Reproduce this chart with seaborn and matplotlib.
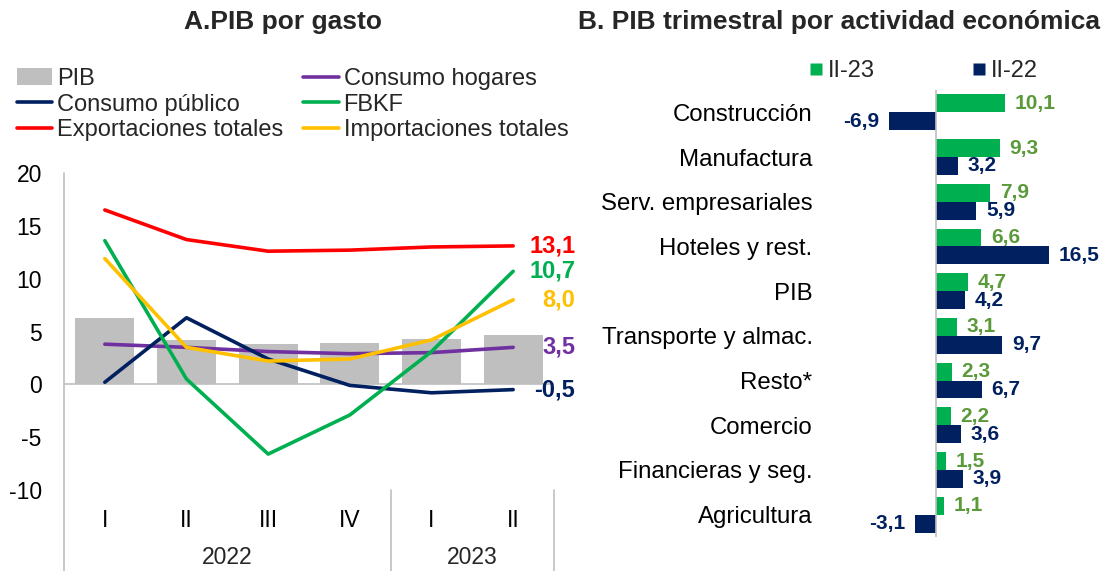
import matplotlib
matplotlib.use("Agg")
import matplotlib.pyplot as plt
import seaborn as sns
import pandas as pd
from matplotlib.patches import Patch
from matplotlib.lines import Line2D

sns.set_theme(style="white")
plt.rcParams['font.family'] = ['Liberation Sans', 'DejaVu Sans']
plt.rcParams['axes.unicode_minus'] = False

# ---------------- data ----------------
quarters = ["I", "II", "III", "IV", "I", "II"]
years = ["2022", "2023"]
pib_gasto = [6.3, 4.2, 3.8, 3.9, 4.3, 4.7]
consumo_hogares = [3.8, 3.5, 3.1, 2.9, 3.0, 3.5]
consumo_publico = [0.2, 6.3, 2.4, -0.1, -0.8, -0.5]
fbkf = [13.6, 0.5, -6.6, -2.9, 3.1, 10.7]
exportaciones = [16.5, 13.7, 12.6, 12.7, 13.0, 13.1]
importaciones = [11.9, 3.5, 2.2, 2.4, 4.2, 8.0]

sectores = ["Construcción", "Manufactura", "Serv. empresariales", "Hoteles y rest.",
            "PIB", "Transporte y almac.", "Resto*", "Comercio",
            "Financieras y seg.", "Agricultura"]
ii_23 = [10.1, 9.3, 7.9, 6.6, 4.7, 3.1, 2.3, 2.2, 1.5, 1.1]
ii_22 = [-6.9, 3.2, 5.9, 16.5, 4.2, 9.7, 6.7, 3.6, 3.9, -3.1]

# ---------------- styles ----------------
GRAY = "#BFBFBF"
RED = "#FF0000"
GREEN = "#00B050"
YELLOW = "#FFC000"
PURPLE = "#7030A0"
NAVY = "#002060"
LGREEN_TXT = "#5B9A3B"
AXIS = "#BFBFBF"

W, H = 1104, 571
fig = plt.figure(figsize=(W / 100, H / 100), dpi=100)

def fx(px):
    return px / W

def fy(py):
    return 1 - py / H

# ---------------- Panel A ----------------
axL_l, axL_r, axL_t, axL_b = 64, 554, 173, 490
axA = fig.add_axes([fx(axL_l), fy(axL_b), fx(axL_r - axL_l), (axL_b - axL_t) / H])

xs = list(range(len(quarters)))
df_bar = pd.DataFrame({"x": xs, "PIB": pib_gasto})
sns.barplot(data=df_bar, x="x", y="PIB", color=GRAY, width=0.72, ax=axA,
            saturation=1, native_scale=True, edgecolor="none")

series = [("Consumo hogares", consumo_hogares, PURPLE),
          ("Consumo público", consumo_publico, NAVY),
          ("FBKF", fbkf, GREEN),
          ("Exportaciones totales", exportaciones, RED),
          ("Importaciones totales", importaciones, YELLOW)]
rows = []
for name, vals, _ in series:
    for x, v in zip(xs, vals):
        rows.append({"x": x, "valor": v, "serie": name})
df_lines = pd.DataFrame(rows)
sns.lineplot(data=df_lines, x="x", y="valor", hue="serie",
             palette={n: c for n, _, c in series}, linewidth=2.6,
             ax=axA, legend=False, sort=False)

axA.set_xlim(-0.5, 5.5)
axA.set_ylim(-10, 20)
axA.set_yticks([-10, -5, 0, 5, 10, 15, 20])
axA.set_yticklabels(["-10", "-5", "0", "5", "10", "15", "20"])
axA.set_xticks(xs)
axA.set_xticklabels(quarters)
axA.tick_params(axis="both", length=0, labelsize=16.5, colors="black")
axA.tick_params(axis="y", pad=16)
axA.tick_params(axis="x", pad=14)
axA.set_xlabel("")
axA.set_ylabel("")
for s in axA.spines.values():
    s.set_visible(False)
axA.axhline(0, color=AXIS, linewidth=1.2, zorder=1)
bottom_frac = (axL_b - H) / (axL_b - axL_t)
axA.plot([0, 0], [bottom_frac, 1], transform=axA.transAxes, color=AXIS,
         linewidth=1.2, clip_on=False)
tr = axA.get_xaxis_transform()
for xv in [3.5, 5.5]:
    axA.plot([xv, xv], [bottom_frac, 0], transform=tr, color=AXIS,
             linewidth=1.2, clip_on=False)
year_y = (axL_b - 557) / (axL_b - axL_t)
axA.text(1.5, year_y, years[0], transform=tr, ha="center", va="center", fontsize=16.5)
axA.text(4.5, year_y, years[1], transform=tr, ha="center", va="center", fontsize=16.5)

def fmt(v):
    return f"{v:.1f}".replace(".", ",")

end_labels = [(exportaciones[-1], RED), (fbkf[-1], GREEN), (importaciones[-1], YELLOW),
              (consumo_hogares[-1], PURPLE), (consumo_publico[-1], NAVY)]
for v, c in end_labels:
    axA.text(5.76, v, fmt(v), color=c, fontsize=17, fontweight="bold",
             ha="right", va="center", clip_on=False)

handles = [Patch(facecolor=GRAY, edgecolor="none"),
           Line2D([], [], color=NAVY, linewidth=2.6),
           Line2D([], [], color=RED, linewidth=2.6),
           Line2D([], [], color=PURPLE, linewidth=2.6),
           Line2D([], [], color=GREEN, linewidth=2.6),
           Line2D([], [], color=YELLOW, linewidth=2.6)]
labels = ["PIB", "Consumo público", "Exportaciones totales",
          "Consumo hogares", "FBKF", "Importaciones totales"]
fig.legend(handles, labels, ncol=2, loc="upper left",
           bbox_to_anchor=(fx(17), fy(68)), frameon=False, fontsize=17,
           handlelength=1.5, handletextpad=0.2, columnspacing=0.85,
           labelspacing=0.15, borderaxespad=0, borderpad=0)

fig.text(fx(283), fy(22), "A.PIB por gasto", ha="center", va="center",
         fontsize=19, fontweight="bold")

# ---------------- Panel B ----------------
zero_px, scale = 936, 6.83
axR_l, axR_r, axR_t, axR_b = 850, 1100, 90, 537
axB = fig.add_axes([fx(axR_l), fy(axR_b), fx(axR_r - axR_l), (axR_b - axR_t) / H])

rowsB = []
for s, a, b in zip(sectores, ii_23, ii_22):
    rowsB.append({"sector": s, "valor": a, "periodo": "II-23"})
    rowsB.append({"sector": s, "valor": b, "periodo": "II-22"})
dfB = pd.DataFrame(rowsB)
sns.barplot(data=dfB, y="sector", x="valor", hue="periodo", order=sectores,
            hue_order=["II-23", "II-22"], palette={"II-23": GREEN, "II-22": NAVY},
            saturation=1, width=0.8, orient="h", ax=axB, legend=False,
            edgecolor="none")

axB.set_xlim((axR_l - zero_px) / scale, (axR_r - zero_px) / scale)
axB.set_ylim(len(sectores) - 0.5, -0.5)
for s in axB.spines.values():
    s.set_visible(False)
axB.axvline(0, color=AXIS, linewidth=1.2)
axB.set_xticks([])
axB.set_xlabel("")
axB.set_ylabel("")
axB.tick_params(axis="y", length=0, labelsize=17.3, pad=27, colors="black")

for cont, vals, col in zip(axB.containers, [ii_23, ii_22], [LGREEN_TXT, NAVY]):
    axB.bar_label(cont, labels=[fmt(v) for v in vals], padding=7, color=col,
                  fontsize=15, fontweight="bold")

hB = [Line2D([], [], marker="s", linestyle="none", markersize=8,
             markerfacecolor=GREEN, markeredgecolor="none"),
      Line2D([], [], marker="s", linestyle="none", markersize=8,
             markerfacecolor=NAVY, markeredgecolor="none")]
fig.legend(hB, ["II-23", "II-22"], ncol=2, loc="center",
           bbox_to_anchor=(fx(924), fy(71)), frameon=False, fontsize=17,
           handlelength=0.5, handletextpad=0.25, columnspacing=4.2,
           borderaxespad=0, borderpad=0)

fig.text(fx(839), fy(22), "B. PIB trimestral por actividad económica",
         ha="center", va="center", fontsize=19, fontweight="bold")

fig.savefig("out.png", dpi=100, facecolor="white")
